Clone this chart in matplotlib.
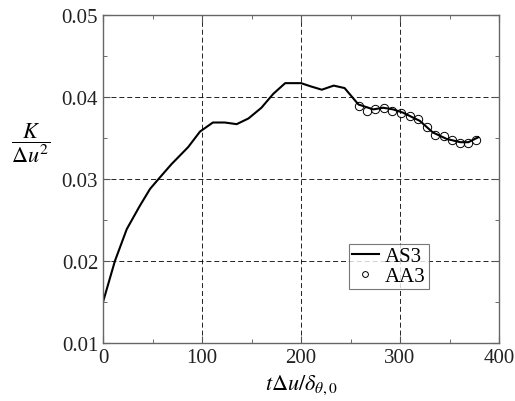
import matplotlib
matplotlib.use("Agg")
import matplotlib.pyplot as plt
from matplotlib.ticker import MultipleLocator

plt.rcParams['font.family'] = ['Liberation Serif', 'DejaVu Serif']
plt.rcParams['mathtext.fontset'] = 'stix'

# AS3 line
t_as3 = [0, 12, 24, 37, 47.5, 56, 69, 86, 98, 111, 123, 135, 147, 160, 172, 184,
         200, 210, 221, 233, 244, 258, 273, 283, 293, 303, 320, 333, 347, 361, 369, 379]
k_as3 = [0.0150, 0.0200, 0.0239, 0.0267, 0.0288, 0.0300, 0.0318, 0.0339, 0.0358, 0.0369,
         0.0369, 0.0367, 0.0374, 0.0387, 0.0404, 0.0417, 0.0417, 0.0413, 0.0409, 0.0414,
         0.0411, 0.0391, 0.0385, 0.0387, 0.0385, 0.0381, 0.0371, 0.0357, 0.0349, 0.0345,
         0.0345, 0.0351]

# AA3 circles
t_aa3 = [259, 267, 275, 284, 292, 301, 310, 318, 327, 335, 344, 352, 361, 369, 377]
k_aa3 = [0.0389, 0.0383, 0.0385, 0.0387, 0.0383, 0.0381, 0.0377, 0.0373, 0.0364, 0.0354,
         0.0352, 0.0348, 0.0344, 0.0344, 0.0348]

x_ticks = [0, 100, 200, 300, 400]
y_ticks = [0.01, 0.02, 0.03, 0.04, 0.05]

fig = plt.figure(figsize=(5.15, 4.02), dpi=100)
ax = fig.add_axes([0.2, 0.144, 0.769, 0.816])

ax.plot(t_as3, k_as3, color='black', lw=1.5, label='AS3')
ax.plot(t_aa3, k_aa3, 'o', mfc='none', mec='black', ms=6, mew=0.7, label='AA3')

ax.set_xlim(0, 400)
ax.set_ylim(0.01, 0.05)
ax.set_xticks(x_ticks)
ax.set_yticks(y_ticks)
ax.set_xticklabels([str(v) for v in x_ticks])
ax.set_yticklabels(['%.2f' % v for v in y_ticks])
ax.xaxis.set_minor_locator(MultipleLocator(50))
ax.yaxis.set_minor_locator(MultipleLocator(0.005))
ax.tick_params(which='both', direction='in', top=True, right=True, labelsize=15,
               color='#555555', labelcolor='#222222')
ax.tick_params(which='major', length=5)
ax.tick_params(which='minor', length=3)
ax.grid(True, which='major', color='black', ls=(0, (6, 3.5)), lw=0.6)
for s in ax.spines.values():
    s.set_color('#666666')
    s.set_linewidth(1.0)

ax.set_xlabel(r'$t\Delta u/\delta_{\theta,0}$', fontsize=16, labelpad=4)
fig.text(0.06, 0.645, r'$\dfrac{K}{\Delta u^2}$', fontsize=16, ha='center', va='center')

leg = ax.legend(loc='lower left', bbox_to_anchor=(0.62, 0.165), fontsize=15,
                frameon=True, fancybox=False, edgecolor='#555555', handlelength=1.3,
                handletextpad=0.3, borderpad=0.15, labelspacing=0.0, borderaxespad=0,
                markerscale=0.7)
leg.get_frame().set_linewidth(0.8)

fig.savefig('out.png', dpi=100)
